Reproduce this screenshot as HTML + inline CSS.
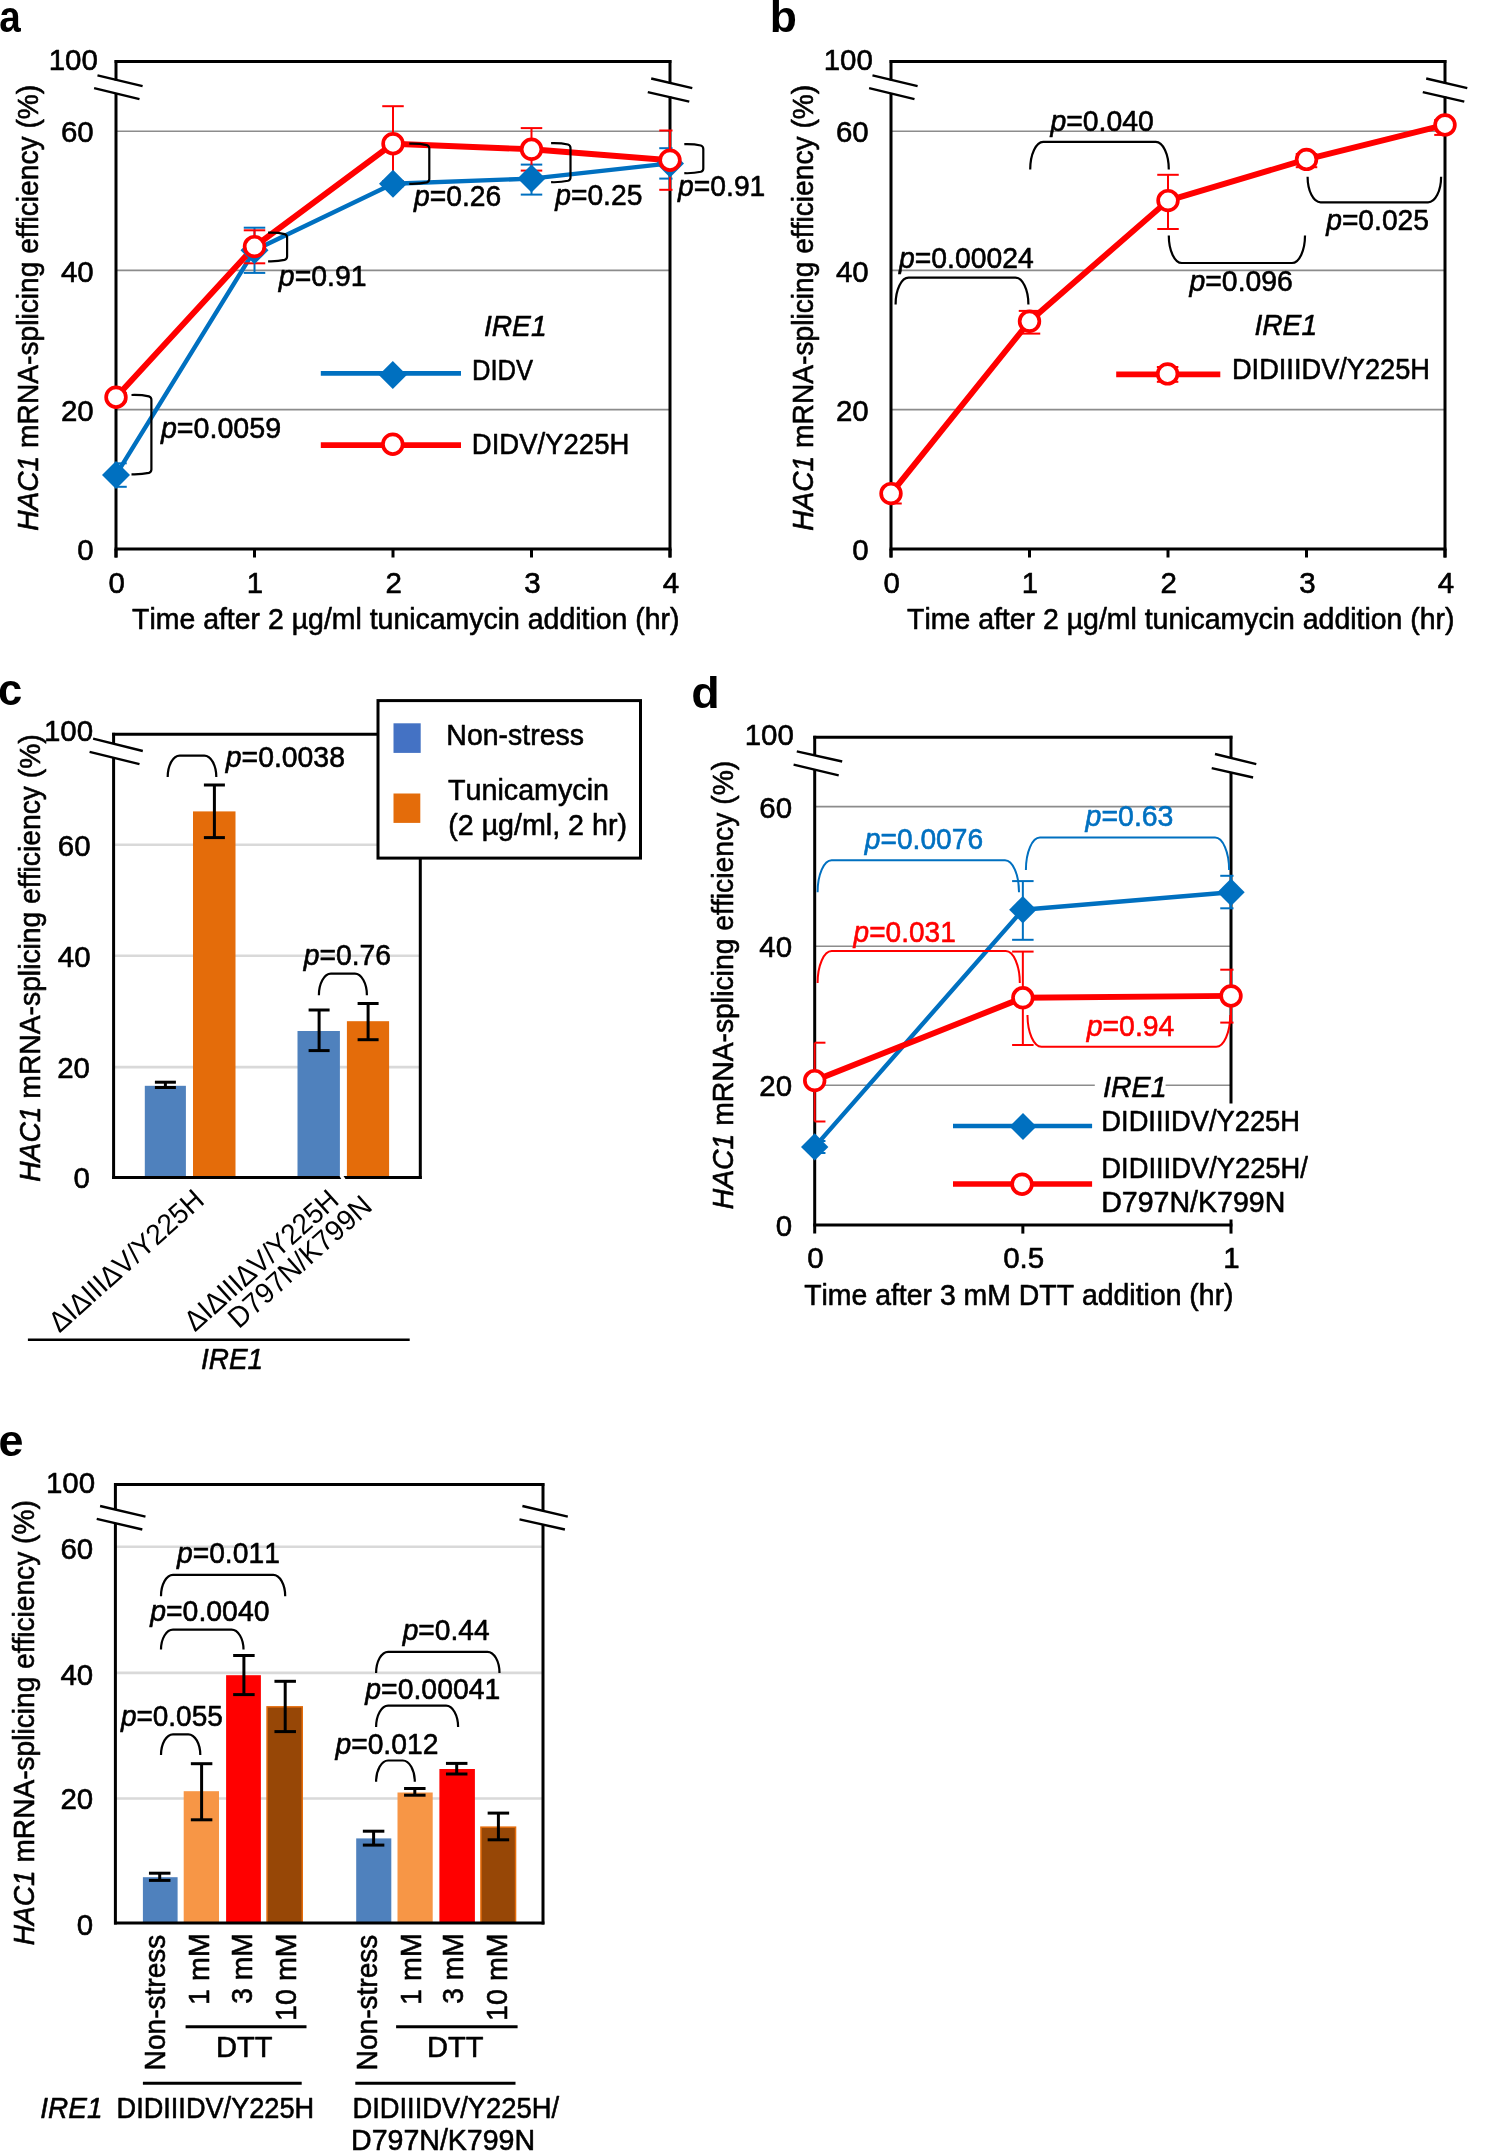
<!DOCTYPE html>
<html><head><meta charset="utf-8"><style>
html,body{margin:0;padding:0;background:#fff;}
svg{display:block;will-change:transform;}
text{font-family:"Liberation Sans",sans-serif;font-kerning:none;}
</style></head><body>
<svg width="1498" height="2153" viewBox="0 0 1498 2153">
<rect x="0" y="0" width="1498" height="2153" fill="#fff"/>
<line x1="116.00" y1="131.20" x2="670.00" y2="131.20" stroke="#8C8C8C" stroke-width="1.60" stroke-linecap="butt"/>
<line x1="116.00" y1="270.40" x2="670.00" y2="270.40" stroke="#8C8C8C" stroke-width="1.60" stroke-linecap="butt"/>
<line x1="116.00" y1="409.60" x2="670.00" y2="409.60" stroke="#8C8C8C" stroke-width="1.60" stroke-linecap="butt"/>
<line x1="114.60" y1="61.50" x2="671.40" y2="61.50" stroke="#000" stroke-width="3.00" stroke-linecap="butt"/>
<line x1="116.00" y1="60.10" x2="116.00" y2="80.50" stroke="#000" stroke-width="3.00" stroke-linecap="butt"/>
<line x1="116.00" y1="93.50" x2="116.00" y2="557.50" stroke="#000" stroke-width="3.00" stroke-linecap="butt"/>
<line x1="670.00" y1="60.10" x2="670.00" y2="83.50" stroke="#000" stroke-width="3.00" stroke-linecap="butt"/>
<line x1="670.00" y1="96.50" x2="670.00" y2="557.50" stroke="#000" stroke-width="3.00" stroke-linecap="butt"/>
<line x1="114.60" y1="549.00" x2="671.40" y2="549.00" stroke="#000" stroke-width="3.00" stroke-linecap="butt"/>
<line x1="116.00" y1="549.00" x2="116.00" y2="557.50" stroke="#000" stroke-width="3.00" stroke-linecap="butt"/>
<line x1="254.50" y1="549.00" x2="254.50" y2="557.50" stroke="#000" stroke-width="3.00" stroke-linecap="butt"/>
<line x1="393.00" y1="549.00" x2="393.00" y2="557.50" stroke="#000" stroke-width="3.00" stroke-linecap="butt"/>
<line x1="531.50" y1="549.00" x2="531.50" y2="557.50" stroke="#000" stroke-width="3.00" stroke-linecap="butt"/>
<line x1="670.00" y1="549.00" x2="670.00" y2="557.50" stroke="#000" stroke-width="3.00" stroke-linecap="butt"/>
<line x1="97.50" y1="75.40" x2="142.60" y2="86.10" stroke="#000" stroke-width="2.40" stroke-linecap="butt"/>
<line x1="94.10" y1="88.10" x2="139.50" y2="99.10" stroke="#000" stroke-width="2.40" stroke-linecap="butt"/>
<line x1="651.20" y1="78.50" x2="692.30" y2="88.10" stroke="#000" stroke-width="2.40" stroke-linecap="butt"/>
<line x1="647.80" y1="92.10" x2="689.30" y2="101.70" stroke="#000" stroke-width="2.40" stroke-linecap="butt"/>
<text x="48.73" y="70.10" font-size="29.50" textLength="49.22" lengthAdjust="spacingAndGlyphs" stroke="#000" stroke-width="0.60" stroke-linejoin="round">100</text>
<text x="60.94" y="142.30" font-size="29.50" textLength="32.81" lengthAdjust="spacingAndGlyphs" stroke="#000" stroke-width="0.60" stroke-linejoin="round">60</text>
<text x="60.94" y="281.50" font-size="29.50" textLength="32.81" lengthAdjust="spacingAndGlyphs" stroke="#000" stroke-width="0.60" stroke-linejoin="round">40</text>
<text x="60.94" y="420.80" font-size="29.50" textLength="32.81" lengthAdjust="spacingAndGlyphs" stroke="#000" stroke-width="0.60" stroke-linejoin="round">20</text>
<text x="77.35" y="560.00" font-size="29.50" textLength="16.41" lengthAdjust="spacingAndGlyphs" stroke="#000" stroke-width="0.60" stroke-linejoin="round">0</text>
<text x="108.60" y="592.60" font-size="29.50" textLength="16.41" lengthAdjust="spacingAndGlyphs" stroke="#000" stroke-width="0.60" stroke-linejoin="round">0</text>
<text x="246.69" y="592.60" font-size="29.50" textLength="16.41" lengthAdjust="spacingAndGlyphs" stroke="#000" stroke-width="0.60" stroke-linejoin="round">1</text>
<text x="385.60" y="592.60" font-size="29.50" textLength="16.41" lengthAdjust="spacingAndGlyphs" stroke="#000" stroke-width="0.60" stroke-linejoin="round">2</text>
<text x="524.18" y="592.60" font-size="29.50" textLength="16.41" lengthAdjust="spacingAndGlyphs" stroke="#000" stroke-width="0.60" stroke-linejoin="round">3</text>
<text x="662.69" y="592.60" font-size="29.50" textLength="16.41" lengthAdjust="spacingAndGlyphs" stroke="#000" stroke-width="0.60" stroke-linejoin="round">4</text>
<text x="132.06" y="629.40" font-size="29.50" textLength="547.50" lengthAdjust="spacingAndGlyphs" stroke="#000" stroke-width="0.60" stroke-linejoin="round">Time after 2 µg/ml tunicamycin addition (hr)</text>
<text transform="translate(38.30 530.87) rotate(-90)" x="0" y="0" font-size="29.50" textLength="446.11" lengthAdjust="spacingAndGlyphs" stroke="#000" stroke-width="0.60" stroke-linejoin="round"><tspan font-style="italic">HAC1</tspan> mRNA-splicing efficiency (%)</text>
<text x="-0.83" y="32.20" font-size="44.00" textLength="21.49" lengthAdjust="spacingAndGlyphs"><tspan font-weight="bold">a</tspan></text>
<polyline points="116.00,474.90 254.50,250.30 393.00,183.80 531.50,178.60 670.00,163.40" fill="none" stroke="#0070C0" stroke-width="4.40" stroke-linejoin="round"/>
<polyline points="116.00,397.20 254.50,246.60 393.00,143.70 531.50,149.30 670.00,160.20" fill="none" stroke="#FF0000" stroke-width="5.90" stroke-linejoin="round"/>
<line x1="116.00" y1="463.30" x2="116.00" y2="486.80" stroke="#0070C0" stroke-width="2.00" stroke-linecap="butt"/><line x1="116.00" y1="463.30" x2="126.75" y2="463.30" stroke="#0070C0" stroke-width="2.00" stroke-linecap="butt"/><line x1="116.00" y1="486.80" x2="126.75" y2="486.80" stroke="#0070C0" stroke-width="2.00" stroke-linecap="butt"/>
<line x1="254.50" y1="227.70" x2="254.50" y2="272.90" stroke="#0070C0" stroke-width="2.00" stroke-linecap="butt"/><line x1="243.75" y1="227.70" x2="265.25" y2="227.70" stroke="#0070C0" stroke-width="2.00" stroke-linecap="butt"/><line x1="243.75" y1="272.90" x2="265.25" y2="272.90" stroke="#0070C0" stroke-width="2.00" stroke-linecap="butt"/>
<line x1="393.00" y1="181.50" x2="393.00" y2="186.30" stroke="#0070C0" stroke-width="2.00" stroke-linecap="butt"/><line x1="382.25" y1="181.50" x2="403.75" y2="181.50" stroke="#0070C0" stroke-width="2.00" stroke-linecap="butt"/><line x1="382.25" y1="186.30" x2="403.75" y2="186.30" stroke="#0070C0" stroke-width="2.00" stroke-linecap="butt"/>
<line x1="531.50" y1="164.60" x2="531.50" y2="194.60" stroke="#0070C0" stroke-width="2.00" stroke-linecap="butt"/><line x1="520.75" y1="164.60" x2="542.25" y2="164.60" stroke="#0070C0" stroke-width="2.00" stroke-linecap="butt"/><line x1="520.75" y1="194.60" x2="542.25" y2="194.60" stroke="#0070C0" stroke-width="2.00" stroke-linecap="butt"/>
<line x1="670.00" y1="148.20" x2="670.00" y2="178.60" stroke="#0070C0" stroke-width="2.00" stroke-linecap="butt"/><line x1="659.25" y1="148.20" x2="672.50" y2="148.20" stroke="#0070C0" stroke-width="2.00" stroke-linecap="butt"/><line x1="659.25" y1="178.60" x2="672.50" y2="178.60" stroke="#0070C0" stroke-width="2.00" stroke-linecap="butt"/>
<line x1="116.00" y1="393.00" x2="116.00" y2="401.40" stroke="#FF0000" stroke-width="2.00" stroke-linecap="butt"/><line x1="116.00" y1="393.00" x2="126.75" y2="393.00" stroke="#FF0000" stroke-width="2.00" stroke-linecap="butt"/><line x1="116.00" y1="401.40" x2="126.75" y2="401.40" stroke="#FF0000" stroke-width="2.00" stroke-linecap="butt"/>
<line x1="254.50" y1="230.30" x2="254.50" y2="263.30" stroke="#FF0000" stroke-width="2.00" stroke-linecap="butt"/><line x1="243.75" y1="230.30" x2="265.25" y2="230.30" stroke="#FF0000" stroke-width="2.00" stroke-linecap="butt"/><line x1="243.75" y1="263.30" x2="265.25" y2="263.30" stroke="#FF0000" stroke-width="2.00" stroke-linecap="butt"/>
<line x1="393.00" y1="106.20" x2="393.00" y2="181.20" stroke="#FF0000" stroke-width="2.00" stroke-linecap="butt"/><line x1="382.25" y1="106.20" x2="403.75" y2="106.20" stroke="#FF0000" stroke-width="2.00" stroke-linecap="butt"/><line x1="382.25" y1="181.20" x2="403.75" y2="181.20" stroke="#FF0000" stroke-width="2.00" stroke-linecap="butt"/>
<line x1="531.50" y1="128.10" x2="531.50" y2="170.60" stroke="#FF0000" stroke-width="2.00" stroke-linecap="butt"/><line x1="520.75" y1="128.10" x2="542.25" y2="128.10" stroke="#FF0000" stroke-width="2.00" stroke-linecap="butt"/><line x1="520.75" y1="170.60" x2="542.25" y2="170.60" stroke="#FF0000" stroke-width="2.00" stroke-linecap="butt"/>
<line x1="670.00" y1="130.50" x2="670.00" y2="189.80" stroke="#FF0000" stroke-width="2.00" stroke-linecap="butt"/><line x1="659.25" y1="130.50" x2="672.50" y2="130.50" stroke="#FF0000" stroke-width="2.00" stroke-linecap="butt"/><line x1="659.25" y1="189.80" x2="672.50" y2="189.80" stroke="#FF0000" stroke-width="2.00" stroke-linecap="butt"/>
<polygon points="102.00,474.90 116.00,460.90 130.00,474.90 116.00,488.90" fill="#0070C0"/>
<polygon points="240.50,250.30 254.50,236.30 268.50,250.30 254.50,264.30" fill="#0070C0"/>
<polygon points="379.00,183.80 393.00,169.80 407.00,183.80 393.00,197.80" fill="#0070C0"/>
<polygon points="517.50,178.60 531.50,164.60 545.50,178.60 531.50,192.60" fill="#0070C0"/>
<polygon points="656.00,163.40 670.00,149.40 684.00,163.40 670.00,177.40" fill="#0070C0"/>
<circle cx="116.00" cy="397.20" r="9.85" fill="#fff" stroke="#FF0000" stroke-width="3.70"/>
<circle cx="254.50" cy="246.60" r="9.85" fill="#fff" stroke="#FF0000" stroke-width="3.70"/>
<circle cx="393.00" cy="143.70" r="9.85" fill="#fff" stroke="#FF0000" stroke-width="3.70"/>
<circle cx="531.50" cy="149.30" r="9.85" fill="#fff" stroke="#FF0000" stroke-width="3.70"/>
<circle cx="670.00" cy="160.20" r="9.85" fill="#fff" stroke="#FF0000" stroke-width="3.70"/>
<path d="M 131.50 395.00 Q 141.45 394.70 148.90 396.40 Q 151.40 397.20 151.40 399.80 L 151.40 469.50 Q 151.40 472.10 148.90 472.90 Q 141.45 474.60 131.50 474.30" fill="none" stroke="#000" stroke-width="2.20"/>
<path d="M 268.10 232.70 Q 277.60 232.40 284.60 234.10 Q 287.10 234.90 287.10 237.50 L 287.10 256.50 Q 287.10 259.10 284.60 259.90 Q 277.60 261.60 268.10 261.30" fill="none" stroke="#000" stroke-width="2.20"/>
<path d="M 409.30 143.70 Q 419.30 143.40 426.80 145.10 Q 429.30 145.90 429.30 148.50 L 429.30 179.00 Q 429.30 181.60 426.80 182.40 Q 419.30 184.10 409.30 183.80" fill="none" stroke="#000" stroke-width="2.20"/>
<path d="M 551.10 143.10 Q 560.80 142.80 568.00 144.50 Q 570.50 145.30 570.50 147.90 L 570.50 177.40 Q 570.50 180.00 568.00 180.80 Q 560.80 182.50 551.10 182.20" fill="none" stroke="#000" stroke-width="2.20"/>
<path d="M 684.30 144.10 Q 693.80 143.80 700.80 145.50 Q 703.30 146.30 703.30 148.90 L 703.30 168.40 Q 703.30 171.00 700.80 171.80 Q 693.80 173.50 684.30 173.20" fill="none" stroke="#000" stroke-width="2.20"/>
<text x="160.91" y="437.50" font-size="29.50" textLength="120.24" lengthAdjust="spacingAndGlyphs" stroke="#000" stroke-width="0.60" stroke-linejoin="round"><tspan font-style="italic">p</tspan>=0.0059</text>
<text x="278.81" y="286.30" font-size="29.50" textLength="87.78" lengthAdjust="spacingAndGlyphs" stroke="#000" stroke-width="0.60" stroke-linejoin="round"><tspan font-style="italic">p</tspan>=0.91</text>
<text x="414.00" y="206.20" font-size="29.50" textLength="87.24" lengthAdjust="spacingAndGlyphs" stroke="#000" stroke-width="0.60" stroke-linejoin="round"><tspan font-style="italic">p</tspan>=0.26</text>
<text x="555.20" y="205.20" font-size="29.50" textLength="87.18" lengthAdjust="spacingAndGlyphs" stroke="#000" stroke-width="0.60" stroke-linejoin="round"><tspan font-style="italic">p</tspan>=0.25</text>
<text x="678.00" y="196.40" font-size="29.50" textLength="87.38" lengthAdjust="spacingAndGlyphs" stroke="#000" stroke-width="0.60" stroke-linejoin="round"><tspan font-style="italic">p</tspan>=0.91</text>
<text x="483.88" y="335.50" font-size="29.50" textLength="62.80" lengthAdjust="spacingAndGlyphs" stroke="#000" stroke-width="0.60" stroke-linejoin="round"><tspan font-style="italic">IRE1</tspan></text>
<line x1="320.80" y1="373.35" x2="461.00" y2="373.35" stroke="#0070C0" stroke-width="4.60" stroke-linecap="butt"/>
<polygon points="378.80,375.00 392.80,361.00 406.80,375.00 392.80,389.00" fill="#0070C0"/>
<text x="472.00" y="380.10" font-size="29.50" textLength="61.21" lengthAdjust="spacingAndGlyphs" stroke="#000" stroke-width="0.60" stroke-linejoin="round">DIDV</text>
<line x1="320.80" y1="445.20" x2="461.00" y2="445.20" stroke="#FF0000" stroke-width="5.70" stroke-linecap="butt"/>
<circle cx="392.80" cy="444.20" r="9.85" fill="#fff" stroke="#FF0000" stroke-width="3.70"/>
<text x="471.84" y="453.50" font-size="29.50" textLength="157.50" lengthAdjust="spacingAndGlyphs" stroke="#000" stroke-width="0.60" stroke-linejoin="round">DIDV/Y225H</text>
<line x1="891.00" y1="131.20" x2="1445.00" y2="131.20" stroke="#8C8C8C" stroke-width="1.60" stroke-linecap="butt"/>
<line x1="891.00" y1="270.40" x2="1445.00" y2="270.40" stroke="#8C8C8C" stroke-width="1.60" stroke-linecap="butt"/>
<line x1="891.00" y1="409.60" x2="1445.00" y2="409.60" stroke="#8C8C8C" stroke-width="1.60" stroke-linecap="butt"/>
<line x1="889.60" y1="61.50" x2="1446.40" y2="61.50" stroke="#000" stroke-width="3.00" stroke-linecap="butt"/>
<line x1="891.00" y1="60.10" x2="891.00" y2="80.50" stroke="#000" stroke-width="3.00" stroke-linecap="butt"/>
<line x1="891.00" y1="93.50" x2="891.00" y2="557.50" stroke="#000" stroke-width="3.00" stroke-linecap="butt"/>
<line x1="1445.00" y1="60.10" x2="1445.00" y2="83.50" stroke="#000" stroke-width="3.00" stroke-linecap="butt"/>
<line x1="1445.00" y1="96.50" x2="1445.00" y2="557.50" stroke="#000" stroke-width="3.00" stroke-linecap="butt"/>
<line x1="889.60" y1="549.00" x2="1446.40" y2="549.00" stroke="#000" stroke-width="3.00" stroke-linecap="butt"/>
<line x1="891.00" y1="549.00" x2="891.00" y2="557.50" stroke="#000" stroke-width="3.00" stroke-linecap="butt"/>
<line x1="1029.50" y1="549.00" x2="1029.50" y2="557.50" stroke="#000" stroke-width="3.00" stroke-linecap="butt"/>
<line x1="1168.00" y1="549.00" x2="1168.00" y2="557.50" stroke="#000" stroke-width="3.00" stroke-linecap="butt"/>
<line x1="1306.50" y1="549.00" x2="1306.50" y2="557.50" stroke="#000" stroke-width="3.00" stroke-linecap="butt"/>
<line x1="1445.00" y1="549.00" x2="1445.00" y2="557.50" stroke="#000" stroke-width="3.00" stroke-linecap="butt"/>
<line x1="872.50" y1="75.40" x2="917.60" y2="86.10" stroke="#000" stroke-width="2.40" stroke-linecap="butt"/>
<line x1="869.10" y1="88.10" x2="914.50" y2="99.10" stroke="#000" stroke-width="2.40" stroke-linecap="butt"/>
<line x1="1426.20" y1="78.50" x2="1467.30" y2="88.10" stroke="#000" stroke-width="2.40" stroke-linecap="butt"/>
<line x1="1422.80" y1="92.10" x2="1464.30" y2="101.70" stroke="#000" stroke-width="2.40" stroke-linecap="butt"/>
<text x="823.73" y="70.10" font-size="29.50" textLength="49.22" lengthAdjust="spacingAndGlyphs" stroke="#000" stroke-width="0.60" stroke-linejoin="round">100</text>
<text x="835.94" y="142.30" font-size="29.50" textLength="32.81" lengthAdjust="spacingAndGlyphs" stroke="#000" stroke-width="0.60" stroke-linejoin="round">60</text>
<text x="835.94" y="281.50" font-size="29.50" textLength="32.81" lengthAdjust="spacingAndGlyphs" stroke="#000" stroke-width="0.60" stroke-linejoin="round">40</text>
<text x="835.94" y="420.80" font-size="29.50" textLength="32.81" lengthAdjust="spacingAndGlyphs" stroke="#000" stroke-width="0.60" stroke-linejoin="round">20</text>
<text x="852.35" y="560.00" font-size="29.50" textLength="16.41" lengthAdjust="spacingAndGlyphs" stroke="#000" stroke-width="0.60" stroke-linejoin="round">0</text>
<text x="883.60" y="592.60" font-size="29.50" textLength="16.41" lengthAdjust="spacingAndGlyphs" stroke="#000" stroke-width="0.60" stroke-linejoin="round">0</text>
<text x="1021.69" y="592.60" font-size="29.50" textLength="16.41" lengthAdjust="spacingAndGlyphs" stroke="#000" stroke-width="0.60" stroke-linejoin="round">1</text>
<text x="1160.60" y="592.60" font-size="29.50" textLength="16.41" lengthAdjust="spacingAndGlyphs" stroke="#000" stroke-width="0.60" stroke-linejoin="round">2</text>
<text x="1299.18" y="592.60" font-size="29.50" textLength="16.41" lengthAdjust="spacingAndGlyphs" stroke="#000" stroke-width="0.60" stroke-linejoin="round">3</text>
<text x="1437.69" y="592.60" font-size="29.50" textLength="16.41" lengthAdjust="spacingAndGlyphs" stroke="#000" stroke-width="0.60" stroke-linejoin="round">4</text>
<text x="907.06" y="629.40" font-size="29.50" textLength="547.50" lengthAdjust="spacingAndGlyphs" stroke="#000" stroke-width="0.60" stroke-linejoin="round">Time after 2 µg/ml tunicamycin addition (hr)</text>
<text transform="translate(813.30 530.87) rotate(-90)" x="0" y="0" font-size="29.50" textLength="446.11" lengthAdjust="spacingAndGlyphs" stroke="#000" stroke-width="0.60" stroke-linejoin="round"><tspan font-style="italic">HAC1</tspan> mRNA-splicing efficiency (%)</text>
<text x="769.67" y="32.20" font-size="44.00" textLength="27.15" lengthAdjust="spacingAndGlyphs"><tspan font-weight="bold">b</tspan></text>
<polyline points="891.00,493.60 1029.50,321.30 1168.00,200.60 1306.50,159.40 1445.00,124.90" fill="none" stroke="#FF0000" stroke-width="5.90" stroke-linejoin="round"/>
<line x1="891.00" y1="483.70" x2="891.00" y2="503.50" stroke="#FF0000" stroke-width="2.00" stroke-linecap="butt"/><line x1="891.00" y1="483.70" x2="901.75" y2="483.70" stroke="#FF0000" stroke-width="2.00" stroke-linecap="butt"/><line x1="891.00" y1="503.50" x2="901.75" y2="503.50" stroke="#FF0000" stroke-width="2.00" stroke-linecap="butt"/>
<line x1="1029.50" y1="310.90" x2="1029.50" y2="333.60" stroke="#FF0000" stroke-width="2.00" stroke-linecap="butt"/><line x1="1018.75" y1="310.90" x2="1040.25" y2="310.90" stroke="#FF0000" stroke-width="2.00" stroke-linecap="butt"/><line x1="1018.75" y1="333.60" x2="1040.25" y2="333.60" stroke="#FF0000" stroke-width="2.00" stroke-linecap="butt"/>
<line x1="1168.00" y1="174.80" x2="1168.00" y2="229.00" stroke="#FF0000" stroke-width="2.00" stroke-linecap="butt"/><line x1="1157.25" y1="174.80" x2="1178.75" y2="174.80" stroke="#FF0000" stroke-width="2.00" stroke-linecap="butt"/><line x1="1157.25" y1="229.00" x2="1178.75" y2="229.00" stroke="#FF0000" stroke-width="2.00" stroke-linecap="butt"/>
<line x1="1306.50" y1="154.00" x2="1306.50" y2="167.20" stroke="#FF0000" stroke-width="2.00" stroke-linecap="butt"/><line x1="1295.75" y1="154.00" x2="1317.25" y2="154.00" stroke="#FF0000" stroke-width="2.00" stroke-linecap="butt"/><line x1="1295.75" y1="167.20" x2="1317.25" y2="167.20" stroke="#FF0000" stroke-width="2.00" stroke-linecap="butt"/>
<line x1="1445.00" y1="120.00" x2="1445.00" y2="134.90" stroke="#FF0000" stroke-width="2.00" stroke-linecap="butt"/><line x1="1434.25" y1="120.00" x2="1447.50" y2="120.00" stroke="#FF0000" stroke-width="2.00" stroke-linecap="butt"/><line x1="1434.25" y1="134.90" x2="1447.50" y2="134.90" stroke="#FF0000" stroke-width="2.00" stroke-linecap="butt"/>
<circle cx="891.00" cy="493.60" r="9.85" fill="#fff" stroke="#FF0000" stroke-width="3.70"/>
<circle cx="1029.50" cy="321.30" r="9.85" fill="#fff" stroke="#FF0000" stroke-width="3.70"/>
<circle cx="1168.00" cy="200.60" r="9.85" fill="#fff" stroke="#FF0000" stroke-width="3.70"/>
<circle cx="1306.50" cy="159.40" r="9.85" fill="#fff" stroke="#FF0000" stroke-width="3.70"/>
<circle cx="1445.00" cy="124.90" r="9.85" fill="#fff" stroke="#FF0000" stroke-width="3.70"/>
<path d="M 895.60 304.40 C 895.60 289.71 901.45 277.70 908.60 277.70 L 1015.40 277.70 C 1022.55 277.70 1028.40 289.71 1028.40 304.40" fill="none" stroke="#000" stroke-width="2.20"/>
<path d="M 1030.20 169.60 C 1030.20 154.31 1036.05 141.80 1043.20 141.80 L 1155.80 141.80 C 1162.95 141.80 1168.80 154.31 1168.80 169.60" fill="none" stroke="#000" stroke-width="2.20"/>
<path d="M 1168.80 235.50 C 1168.80 250.62 1174.65 263.00 1181.80 263.00 L 1292.00 263.00 C 1299.15 263.00 1305.00 250.62 1305.00 235.50" fill="none" stroke="#000" stroke-width="2.20"/>
<path d="M 1307.60 176.70 C 1307.60 190.78 1313.45 202.30 1320.60 202.30 L 1428.10 202.30 C 1435.25 202.30 1441.10 190.78 1441.10 176.70" fill="none" stroke="#000" stroke-width="2.20"/>
<text x="899.01" y="267.80" font-size="29.50" textLength="134.72" lengthAdjust="spacingAndGlyphs" stroke="#000" stroke-width="0.60" stroke-linejoin="round"><tspan font-style="italic">p</tspan>=0.00024</text>
<text x="1050.41" y="131.40" font-size="29.50" textLength="103.40" lengthAdjust="spacingAndGlyphs" stroke="#000" stroke-width="0.60" stroke-linejoin="round"><tspan font-style="italic">p</tspan>=0.040</text>
<text x="1189.51" y="290.50" font-size="29.50" textLength="103.34" lengthAdjust="spacingAndGlyphs" stroke="#000" stroke-width="0.60" stroke-linejoin="round"><tspan font-style="italic">p</tspan>=0.096</text>
<text x="1326.20" y="229.60" font-size="29.50" textLength="102.78" lengthAdjust="spacingAndGlyphs" stroke="#000" stroke-width="0.60" stroke-linejoin="round"><tspan font-style="italic">p</tspan>=0.025</text>
<text x="1254.38" y="335.00" font-size="29.50" textLength="62.80" lengthAdjust="spacingAndGlyphs" stroke="#000" stroke-width="0.60" stroke-linejoin="round"><tspan font-style="italic">IRE1</tspan></text>
<line x1="1116.20" y1="374.30" x2="1220.30" y2="374.30" stroke="#FF0000" stroke-width="5.70" stroke-linecap="butt"/>
<line x1="1167.60" y1="367.00" x2="1167.60" y2="381.80" stroke="#FF0000" stroke-width="2.00" stroke-linecap="butt"/><line x1="1156.85" y1="367.00" x2="1178.35" y2="367.00" stroke="#FF0000" stroke-width="2.00" stroke-linecap="butt"/><line x1="1156.85" y1="381.80" x2="1178.35" y2="381.80" stroke="#FF0000" stroke-width="2.00" stroke-linecap="butt"/>
<circle cx="1167.60" cy="373.90" r="9.85" fill="#fff" stroke="#FF0000" stroke-width="3.70"/>
<text x="1231.97" y="379.10" font-size="29.50" textLength="198.05" lengthAdjust="spacingAndGlyphs" stroke="#000" stroke-width="0.60" stroke-linejoin="round">DIDIIIDV/Y225H</text>
<line x1="113.60" y1="844.80" x2="420.30" y2="844.80" stroke="#D9D9D9" stroke-width="2.60" stroke-linecap="butt"/>
<line x1="113.60" y1="955.80" x2="420.30" y2="955.80" stroke="#D9D9D9" stroke-width="2.60" stroke-linecap="butt"/>
<line x1="113.60" y1="1067.10" x2="420.30" y2="1067.10" stroke="#D9D9D9" stroke-width="2.60" stroke-linecap="butt"/>
<rect x="144.80" y="1085.80" width="41.10" height="91.80" fill="#4F81BD"/>
<rect x="193.00" y="811.40" width="42.50" height="366.20" fill="#E46C0A"/>
<rect x="297.50" y="1031.00" width="42.40" height="146.60" fill="#4F81BD"/>
<rect x="346.90" y="1021.20" width="42.20" height="156.40" fill="#E46C0A"/>
<line x1="165.40" y1="1082.20" x2="165.40" y2="1087.50" stroke="#000" stroke-width="3.00" stroke-linecap="butt"/><line x1="154.90" y1="1082.20" x2="175.90" y2="1082.20" stroke="#000" stroke-width="3.00" stroke-linecap="butt"/><line x1="154.90" y1="1087.50" x2="175.90" y2="1087.50" stroke="#000" stroke-width="3.00" stroke-linecap="butt"/>
<line x1="214.40" y1="785.00" x2="214.40" y2="837.60" stroke="#000" stroke-width="3.00" stroke-linecap="butt"/><line x1="203.90" y1="785.00" x2="224.90" y2="785.00" stroke="#000" stroke-width="3.00" stroke-linecap="butt"/><line x1="203.90" y1="837.60" x2="224.90" y2="837.60" stroke="#000" stroke-width="3.00" stroke-linecap="butt"/>
<line x1="319.10" y1="1010.00" x2="319.10" y2="1050.60" stroke="#000" stroke-width="3.00" stroke-linecap="butt"/><line x1="308.60" y1="1010.00" x2="329.60" y2="1010.00" stroke="#000" stroke-width="3.00" stroke-linecap="butt"/><line x1="308.60" y1="1050.60" x2="329.60" y2="1050.60" stroke="#000" stroke-width="3.00" stroke-linecap="butt"/>
<line x1="368.10" y1="1003.50" x2="368.10" y2="1039.70" stroke="#000" stroke-width="3.00" stroke-linecap="butt"/><line x1="357.60" y1="1003.50" x2="378.60" y2="1003.50" stroke="#000" stroke-width="3.00" stroke-linecap="butt"/><line x1="357.60" y1="1039.70" x2="378.60" y2="1039.70" stroke="#000" stroke-width="3.00" stroke-linecap="butt"/>
<line x1="113.60" y1="732.80" x2="113.60" y2="743.70" stroke="#000" stroke-width="3.00" stroke-linecap="butt"/>
<line x1="113.60" y1="757.70" x2="113.60" y2="1179.00" stroke="#000" stroke-width="3.00" stroke-linecap="butt"/>
<line x1="112.20" y1="734.20" x2="380.00" y2="734.20" stroke="#000" stroke-width="3.00" stroke-linecap="butt"/>
<line x1="420.30" y1="856.00" x2="420.30" y2="1179.00" stroke="#000" stroke-width="3.00" stroke-linecap="butt"/>
<line x1="112.20" y1="1177.60" x2="421.70" y2="1177.60" stroke="#000" stroke-width="3.00" stroke-linecap="butt"/>
<polygon points="339.4,1175.8 343.4,1175.8 346.1,1179.9 341.8,1179.9" fill="#fff"/>
<line x1="93.10" y1="738.70" x2="142.80" y2="751.00" stroke="#000" stroke-width="2.40" stroke-linecap="butt"/>
<line x1="89.60" y1="751.80" x2="139.50" y2="764.10" stroke="#000" stroke-width="2.40" stroke-linecap="butt"/>
<path d="M 167.70 777.00 C 167.70 765.23 173.10 755.60 179.70 755.60 L 204.30 755.60 C 210.90 755.60 216.30 765.23 216.30 777.00" fill="none" stroke="#000" stroke-width="2.20"/>
<path d="M 318.90 995.20 C 318.90 983.38 324.30 973.70 330.90 973.70 L 354.90 973.70 C 361.50 973.70 366.90 983.38 366.90 995.20" fill="none" stroke="#000" stroke-width="2.20"/>
<text x="225.81" y="767.30" font-size="29.50" textLength="119.13" lengthAdjust="spacingAndGlyphs" stroke="#000" stroke-width="0.60" stroke-linejoin="round"><tspan font-style="italic">p</tspan>=0.0038</text>
<text x="303.70" y="965.20" font-size="29.50" textLength="87.34" lengthAdjust="spacingAndGlyphs" stroke="#000" stroke-width="0.60" stroke-linejoin="round"><tspan font-style="italic">p</tspan>=0.76</text>
<text x="43.93" y="741.00" font-size="29.50" textLength="49.22" lengthAdjust="spacingAndGlyphs" stroke="#000" stroke-width="0.60" stroke-linejoin="round">100</text>
<text x="57.74" y="856.30" font-size="29.50" textLength="32.81" lengthAdjust="spacingAndGlyphs" stroke="#000" stroke-width="0.60" stroke-linejoin="round">60</text>
<text x="57.74" y="966.80" font-size="29.50" textLength="32.81" lengthAdjust="spacingAndGlyphs" stroke="#000" stroke-width="0.60" stroke-linejoin="round">40</text>
<text x="57.14" y="1077.80" font-size="29.50" textLength="32.81" lengthAdjust="spacingAndGlyphs" stroke="#000" stroke-width="0.60" stroke-linejoin="round">20</text>
<text x="73.55" y="1188.40" font-size="29.50" textLength="16.41" lengthAdjust="spacingAndGlyphs" stroke="#000" stroke-width="0.60" stroke-linejoin="round">0</text>
<text transform="translate(39.60 1181.87) rotate(-90)" x="0" y="0" font-size="29.50" textLength="447.62" lengthAdjust="spacingAndGlyphs" stroke="#000" stroke-width="0.60" stroke-linejoin="round"><tspan font-style="italic">HAC1</tspan> mRNA-splicing efficiency (%)</text>
<rect x="378" y="700.6" width="262.5" height="157.5" fill="#fff" stroke="#000" stroke-width="3"/>
<rect x="393.50" y="723.30" width="27.20" height="29.60" fill="#4472C4"/>
<rect x="393.50" y="793.50" width="26.80" height="29.40" fill="#E46C0A"/>
<text x="446.36" y="744.90" font-size="29.50" textLength="137.66" lengthAdjust="spacingAndGlyphs" stroke="#000" stroke-width="0.60" stroke-linejoin="round">Non-stress</text>
<text x="448.06" y="800.20" font-size="29.50" textLength="160.91" lengthAdjust="spacingAndGlyphs" stroke="#000" stroke-width="0.60" stroke-linejoin="round">Tunicamycin</text>
<text x="448.22" y="834.90" font-size="29.50" textLength="178.75" lengthAdjust="spacingAndGlyphs" stroke="#000" stroke-width="0.60" stroke-linejoin="round">(2 µg/ml, 2 hr)</text>
<text transform="translate(204.20 1204.00) rotate(-41.80)" x="-194.22" y="0" font-size="29.00" textLength="196.47" lengthAdjust="spacingAndGlyphs">ΔIΔIIIΔV/Y225H</text>
<text transform="translate(338.90 1204.00) rotate(-41.80)" x="-192.92" y="0" font-size="29.00" textLength="195.15" lengthAdjust="spacingAndGlyphs">ΔIΔIIIΔV/Y225H</text>
<text transform="translate(372.30 1210.00) rotate(-41.80)" x="-179.21" y="0" font-size="29.00" textLength="181.50" lengthAdjust="spacingAndGlyphs">D797N/K799N</text>
<line x1="27.90" y1="1339.80" x2="409.70" y2="1339.80" stroke="#000" stroke-width="2.60" stroke-linecap="butt"/>
<text x="200.99" y="1368.60" font-size="29.50" textLength="62.17" lengthAdjust="spacingAndGlyphs" stroke="#000" stroke-width="0.60" stroke-linejoin="round"><tspan font-style="italic">IRE1</tspan></text>
<text x="-2.01" y="705.20" font-size="44.00" textLength="24.28" lengthAdjust="spacingAndGlyphs"><tspan font-weight="bold">c</tspan></text>
<line x1="814.70" y1="806.60" x2="1231.00" y2="806.60" stroke="#8C8C8C" stroke-width="1.60" stroke-linecap="butt"/>
<line x1="814.70" y1="946.20" x2="1231.00" y2="946.20" stroke="#8C8C8C" stroke-width="1.60" stroke-linecap="butt"/>
<line x1="814.70" y1="1085.20" x2="1094.80" y2="1085.20" stroke="#8C8C8C" stroke-width="1.60" stroke-linecap="butt"/>
<line x1="1165.60" y1="1085.20" x2="1231.00" y2="1085.20" stroke="#8C8C8C" stroke-width="1.60" stroke-linecap="butt"/>
<line x1="813.30" y1="737.20" x2="1232.40" y2="737.20" stroke="#000" stroke-width="3.00" stroke-linecap="butt"/>
<line x1="814.70" y1="735.80" x2="814.70" y2="755.30" stroke="#000" stroke-width="3.00" stroke-linecap="butt"/>
<line x1="814.70" y1="769.70" x2="814.70" y2="1233.60" stroke="#000" stroke-width="3.00" stroke-linecap="butt"/>
<line x1="1231.00" y1="735.80" x2="1231.00" y2="757.90" stroke="#000" stroke-width="3.00" stroke-linecap="butt"/>
<line x1="1231.00" y1="772.50" x2="1231.00" y2="1103.60" stroke="#000" stroke-width="3.00" stroke-linecap="butt"/>
<line x1="1231.00" y1="1219.50" x2="1231.00" y2="1233.60" stroke="#000" stroke-width="3.00" stroke-linecap="butt"/>
<line x1="813.30" y1="1225.10" x2="1232.40" y2="1225.10" stroke="#000" stroke-width="3.00" stroke-linecap="butt"/>
<line x1="1022.85" y1="1225.10" x2="1022.85" y2="1233.60" stroke="#000" stroke-width="3.00" stroke-linecap="butt"/>
<line x1="796.80" y1="751.30" x2="842.20" y2="761.50" stroke="#000" stroke-width="2.40" stroke-linecap="butt"/>
<line x1="793.60" y1="764.70" x2="838.70" y2="775.40" stroke="#000" stroke-width="2.40" stroke-linecap="butt"/>
<line x1="1215.00" y1="754.00" x2="1256.30" y2="764.10" stroke="#000" stroke-width="2.40" stroke-linecap="butt"/>
<line x1="1211.70" y1="768.10" x2="1253.10" y2="777.50" stroke="#000" stroke-width="2.40" stroke-linecap="butt"/>
<polyline points="814.70,1146.90 1022.85,909.70 1231.00,892.30" fill="none" stroke="#0070C0" stroke-width="4.40" stroke-linejoin="round"/>
<polyline points="814.70,1080.60 1022.85,997.80 1231.00,995.90" fill="none" stroke="#FF0000" stroke-width="5.90" stroke-linejoin="round"/>
<line x1="814.70" y1="1141.00" x2="814.70" y2="1153.00" stroke="#0070C0" stroke-width="2.00" stroke-linecap="butt"/><line x1="814.70" y1="1141.00" x2="825.45" y2="1141.00" stroke="#0070C0" stroke-width="2.00" stroke-linecap="butt"/><line x1="814.70" y1="1153.00" x2="825.45" y2="1153.00" stroke="#0070C0" stroke-width="2.00" stroke-linecap="butt"/>
<line x1="1022.85" y1="881.10" x2="1022.85" y2="939.80" stroke="#0070C0" stroke-width="2.00" stroke-linecap="butt"/><line x1="1012.10" y1="881.10" x2="1033.60" y2="881.10" stroke="#0070C0" stroke-width="2.00" stroke-linecap="butt"/><line x1="1012.10" y1="939.80" x2="1033.60" y2="939.80" stroke="#0070C0" stroke-width="2.00" stroke-linecap="butt"/>
<line x1="1231.00" y1="875.80" x2="1231.00" y2="908.30" stroke="#0070C0" stroke-width="2.00" stroke-linecap="butt"/><line x1="1220.25" y1="875.80" x2="1233.50" y2="875.80" stroke="#0070C0" stroke-width="2.00" stroke-linecap="butt"/><line x1="1220.25" y1="908.30" x2="1233.50" y2="908.30" stroke="#0070C0" stroke-width="2.00" stroke-linecap="butt"/>
<line x1="814.70" y1="1042.70" x2="814.70" y2="1121.50" stroke="#FF0000" stroke-width="2.00" stroke-linecap="butt"/><line x1="814.70" y1="1042.70" x2="825.45" y2="1042.70" stroke="#FF0000" stroke-width="2.00" stroke-linecap="butt"/><line x1="814.70" y1="1121.50" x2="825.45" y2="1121.50" stroke="#FF0000" stroke-width="2.00" stroke-linecap="butt"/>
<line x1="1022.85" y1="951.60" x2="1022.85" y2="1045.00" stroke="#FF0000" stroke-width="2.00" stroke-linecap="butt"/><line x1="1012.10" y1="951.60" x2="1033.60" y2="951.60" stroke="#FF0000" stroke-width="2.00" stroke-linecap="butt"/><line x1="1012.10" y1="1045.00" x2="1033.60" y2="1045.00" stroke="#FF0000" stroke-width="2.00" stroke-linecap="butt"/>
<line x1="1231.00" y1="969.70" x2="1231.00" y2="1022.60" stroke="#FF0000" stroke-width="2.00" stroke-linecap="butt"/><line x1="1220.25" y1="969.70" x2="1233.50" y2="969.70" stroke="#FF0000" stroke-width="2.00" stroke-linecap="butt"/><line x1="1220.25" y1="1022.60" x2="1233.50" y2="1022.60" stroke="#FF0000" stroke-width="2.00" stroke-linecap="butt"/>
<polygon points="801.00,1146.90 814.70,1133.20 828.40,1146.90 814.70,1160.60" fill="#0070C0"/>
<polygon points="1009.15,909.70 1022.85,896.00 1036.55,909.70 1022.85,923.40" fill="#0070C0"/>
<polygon points="1217.30,892.30 1231.00,878.60 1244.70,892.30 1231.00,906.00" fill="#0070C0"/>
<circle cx="814.70" cy="1080.60" r="9.85" fill="#fff" stroke="#FF0000" stroke-width="3.70"/>
<circle cx="1022.85" cy="997.80" r="9.85" fill="#fff" stroke="#FF0000" stroke-width="3.70"/>
<circle cx="1231.00" cy="995.90" r="9.85" fill="#fff" stroke="#FF0000" stroke-width="3.70"/>
<path d="M 817.60 892.30 C 817.60 874.70 823.90 860.30 831.60 860.30 L 1005.00 860.30 C 1012.70 860.30 1019.00 874.70 1019.00 892.30" fill="none" stroke="#0070C0" stroke-width="2.00"/>
<path d="M 1025.90 870.00 C 1025.90 852.18 1032.20 837.60 1039.90 837.60 L 1215.10 837.60 C 1222.80 837.60 1229.10 852.18 1229.10 870.00" fill="none" stroke="#0070C0" stroke-width="2.00"/>
<path d="M 817.60 983.10 C 817.60 965.50 823.90 951.10 831.60 951.10 L 1005.80 951.10 C 1013.50 951.10 1019.80 965.50 1019.80 983.10" fill="none" stroke="#FF0000" stroke-width="2.00"/>
<path d="M 1027.50 1015.10 C 1027.50 1032.54 1033.80 1046.80 1041.50 1046.80 L 1216.20 1046.80 C 1223.90 1046.80 1230.20 1032.54 1230.20 1015.10" fill="none" stroke="#FF0000" stroke-width="2.00"/>
<text x="864.80" y="849.00" font-size="29.50" textLength="118.34" lengthAdjust="spacingAndGlyphs" fill="#0070C0" stroke="#0070C0" stroke-width="0.60" stroke-linejoin="round"><tspan font-style="italic">p</tspan>=0.0076</text>
<text x="1085.61" y="825.60" font-size="29.50" textLength="87.84" lengthAdjust="spacingAndGlyphs" fill="#0070C0" stroke="#0070C0" stroke-width="0.60" stroke-linejoin="round"><tspan font-style="italic">p</tspan>=0.63</text>
<text x="853.60" y="941.70" font-size="29.50" textLength="102.17" lengthAdjust="spacingAndGlyphs" fill="#FF0000" stroke="#FF0000" stroke-width="0.60" stroke-linejoin="round"><tspan font-style="italic">p</tspan>=0.031</text>
<text x="1086.71" y="1035.50" font-size="29.50" textLength="87.72" lengthAdjust="spacingAndGlyphs" fill="#FF0000" stroke="#FF0000" stroke-width="0.60" stroke-linejoin="round"><tspan font-style="italic">p</tspan>=0.94</text>
<text x="1102.97" y="1096.70" font-size="29.50" textLength="63.65" lengthAdjust="spacingAndGlyphs" stroke="#000" stroke-width="0.60" stroke-linejoin="round"><tspan font-style="italic">IRE1</tspan></text>
<line x1="953.00" y1="1126.00" x2="1092.10" y2="1126.00" stroke="#0070C0" stroke-width="4.60" stroke-linecap="butt"/>
<polygon points="1009.50,1126.50 1023.00,1113.00 1036.50,1126.50 1023.00,1140.00" fill="#0070C0"/>
<line x1="953.00" y1="1184.00" x2="1092.10" y2="1184.00" stroke="#FF0000" stroke-width="5.70" stroke-linecap="butt"/>
<circle cx="1022.00" cy="1184.20" r="9.85" fill="#fff" stroke="#FF0000" stroke-width="3.70"/>
<text x="1101.36" y="1130.80" font-size="29.50" textLength="198.56" lengthAdjust="spacingAndGlyphs" stroke="#000" stroke-width="0.60" stroke-linejoin="round">DIDIIIDV/Y225H</text>
<text x="1101.36" y="1177.60" font-size="29.50" textLength="206.54" lengthAdjust="spacingAndGlyphs" stroke="#000" stroke-width="0.60" stroke-linejoin="round">DIDIIIDV/Y225H/</text>
<text x="1101.26" y="1212.30" font-size="29.50" textLength="184.07" lengthAdjust="spacingAndGlyphs" stroke="#000" stroke-width="0.60" stroke-linejoin="round">D797N/K799N</text>
<text x="744.73" y="745.40" font-size="29.50" textLength="49.22" lengthAdjust="spacingAndGlyphs" stroke="#000" stroke-width="0.60" stroke-linejoin="round">100</text>
<text x="759.24" y="817.60" font-size="29.50" textLength="32.81" lengthAdjust="spacingAndGlyphs" stroke="#000" stroke-width="0.60" stroke-linejoin="round">60</text>
<text x="759.24" y="957.40" font-size="29.50" textLength="32.81" lengthAdjust="spacingAndGlyphs" stroke="#000" stroke-width="0.60" stroke-linejoin="round">40</text>
<text x="759.24" y="1096.30" font-size="29.50" textLength="32.81" lengthAdjust="spacingAndGlyphs" stroke="#000" stroke-width="0.60" stroke-linejoin="round">20</text>
<text x="775.65" y="1235.60" font-size="29.50" textLength="16.41" lengthAdjust="spacingAndGlyphs" stroke="#000" stroke-width="0.60" stroke-linejoin="round">0</text>
<text x="807.30" y="1268.20" font-size="29.50" textLength="16.41" lengthAdjust="spacingAndGlyphs" stroke="#000" stroke-width="0.60" stroke-linejoin="round">0</text>
<text x="1003.19" y="1268.20" font-size="29.50" textLength="41.01" lengthAdjust="spacingAndGlyphs" stroke="#000" stroke-width="0.60" stroke-linejoin="round">0.5</text>
<text x="1223.19" y="1268.20" font-size="29.50" textLength="16.41" lengthAdjust="spacingAndGlyphs" stroke="#000" stroke-width="0.60" stroke-linejoin="round">1</text>
<text x="804.16" y="1305.20" font-size="29.50" textLength="429.40" lengthAdjust="spacingAndGlyphs" stroke="#000" stroke-width="0.60" stroke-linejoin="round">Time after 3 mM DTT addition (hr)</text>
<text transform="translate(732.80 1209.27) rotate(-90)" x="0" y="0" font-size="29.50" textLength="448.53" lengthAdjust="spacingAndGlyphs" stroke="#000" stroke-width="0.60" stroke-linejoin="round"><tspan font-style="italic">HAC1</tspan> mRNA-splicing efficiency (%)</text>
<text x="691.29" y="707.80" font-size="44.00" textLength="28.49" lengthAdjust="spacingAndGlyphs"><tspan font-weight="bold">d</tspan></text>
<line x1="115.40" y1="1546.80" x2="543.00" y2="1546.80" stroke="#D9D9D9" stroke-width="2.60" stroke-linecap="butt"/>
<line x1="115.40" y1="1672.90" x2="543.00" y2="1672.90" stroke="#D9D9D9" stroke-width="2.60" stroke-linecap="butt"/>
<line x1="115.40" y1="1798.50" x2="543.00" y2="1798.50" stroke="#D9D9D9" stroke-width="2.60" stroke-linecap="butt"/>
<rect x="142.90" y="1877.20" width="34.70" height="45.90" fill="#4F81BD"/>
<rect x="183.70" y="1791.20" width="35.30" height="131.90" fill="#F79646"/>
<rect x="226.10" y="1675.20" width="34.80" height="247.90" fill="#FF0000"/>
<rect x="267.05" y="1706.85" width="35.20" height="216.25" fill="#974706" stroke="#E46C0A" stroke-width="1.5"/>
<rect x="356.20" y="1838.40" width="35.10" height="84.70" fill="#4F81BD"/>
<rect x="397.50" y="1792.50" width="35.20" height="130.60" fill="#F79646"/>
<rect x="439.40" y="1769.00" width="35.50" height="154.10" fill="#FF0000"/>
<rect x="480.95" y="1827.15" width="34.60" height="95.95" fill="#974706" stroke="#E46C0A" stroke-width="1.5"/>
<line x1="159.70" y1="1873.20" x2="159.70" y2="1880.40" stroke="#000" stroke-width="3.00" stroke-linecap="butt"/><line x1="148.95" y1="1873.20" x2="170.45" y2="1873.20" stroke="#000" stroke-width="3.00" stroke-linecap="butt"/><line x1="148.95" y1="1880.40" x2="170.45" y2="1880.40" stroke="#000" stroke-width="3.00" stroke-linecap="butt"/>
<line x1="201.60" y1="1763.70" x2="201.60" y2="1819.80" stroke="#000" stroke-width="3.00" stroke-linecap="butt"/><line x1="190.85" y1="1763.70" x2="212.35" y2="1763.70" stroke="#000" stroke-width="3.00" stroke-linecap="butt"/><line x1="190.85" y1="1819.80" x2="212.35" y2="1819.80" stroke="#000" stroke-width="3.00" stroke-linecap="butt"/>
<line x1="243.90" y1="1655.50" x2="243.90" y2="1694.60" stroke="#000" stroke-width="3.00" stroke-linecap="butt"/><line x1="233.15" y1="1655.50" x2="254.65" y2="1655.50" stroke="#000" stroke-width="3.00" stroke-linecap="butt"/><line x1="233.15" y1="1694.60" x2="254.65" y2="1694.60" stroke="#000" stroke-width="3.00" stroke-linecap="butt"/>
<line x1="285.20" y1="1681.30" x2="285.20" y2="1731.60" stroke="#000" stroke-width="3.00" stroke-linecap="butt"/><line x1="274.45" y1="1681.30" x2="295.95" y2="1681.30" stroke="#000" stroke-width="3.00" stroke-linecap="butt"/><line x1="274.45" y1="1731.60" x2="295.95" y2="1731.60" stroke="#000" stroke-width="3.00" stroke-linecap="butt"/>
<line x1="373.60" y1="1831.20" x2="373.60" y2="1845.10" stroke="#000" stroke-width="3.00" stroke-linecap="butt"/><line x1="362.85" y1="1831.20" x2="384.35" y2="1831.20" stroke="#000" stroke-width="3.00" stroke-linecap="butt"/><line x1="362.85" y1="1845.10" x2="384.35" y2="1845.10" stroke="#000" stroke-width="3.00" stroke-linecap="butt"/>
<line x1="414.80" y1="1788.50" x2="414.80" y2="1795.20" stroke="#000" stroke-width="3.00" stroke-linecap="butt"/><line x1="404.05" y1="1788.50" x2="425.55" y2="1788.50" stroke="#000" stroke-width="3.00" stroke-linecap="butt"/><line x1="404.05" y1="1795.20" x2="425.55" y2="1795.20" stroke="#000" stroke-width="3.00" stroke-linecap="butt"/>
<line x1="456.70" y1="1763.40" x2="456.70" y2="1774.00" stroke="#000" stroke-width="3.00" stroke-linecap="butt"/><line x1="445.95" y1="1763.40" x2="467.45" y2="1763.40" stroke="#000" stroke-width="3.00" stroke-linecap="butt"/><line x1="445.95" y1="1774.00" x2="467.45" y2="1774.00" stroke="#000" stroke-width="3.00" stroke-linecap="butt"/>
<line x1="498.40" y1="1813.10" x2="498.40" y2="1839.80" stroke="#000" stroke-width="3.00" stroke-linecap="butt"/><line x1="487.65" y1="1813.10" x2="509.15" y2="1813.10" stroke="#000" stroke-width="3.00" stroke-linecap="butt"/><line x1="487.65" y1="1839.80" x2="509.15" y2="1839.80" stroke="#000" stroke-width="3.00" stroke-linecap="butt"/>
<line x1="114.00" y1="1484.60" x2="544.40" y2="1484.60" stroke="#000" stroke-width="3.00" stroke-linecap="butt"/>
<line x1="115.40" y1="1483.20" x2="115.40" y2="1509.60" stroke="#000" stroke-width="3.00" stroke-linecap="butt"/>
<line x1="115.40" y1="1523.20" x2="115.40" y2="1924.50" stroke="#000" stroke-width="3.00" stroke-linecap="butt"/>
<line x1="543.00" y1="1483.20" x2="543.00" y2="1510.90" stroke="#000" stroke-width="3.00" stroke-linecap="butt"/>
<line x1="543.00" y1="1524.60" x2="543.00" y2="1924.50" stroke="#000" stroke-width="3.00" stroke-linecap="butt"/>
<line x1="114.00" y1="1923.10" x2="544.40" y2="1923.10" stroke="#000" stroke-width="3.00" stroke-linecap="butt"/>
<line x1="100.10" y1="1506.00" x2="145.50" y2="1516.70" stroke="#000" stroke-width="2.40" stroke-linecap="butt"/>
<line x1="96.70" y1="1518.80" x2="142.30" y2="1529.50" stroke="#000" stroke-width="2.40" stroke-linecap="butt"/>
<line x1="522.40" y1="1506.00" x2="567.80" y2="1516.70" stroke="#000" stroke-width="2.40" stroke-linecap="butt"/>
<line x1="519.50" y1="1519.30" x2="564.90" y2="1529.50" stroke="#000" stroke-width="2.40" stroke-linecap="butt"/>
<path d="M 161.00 1755.10 C 161.00 1743.66 166.40 1734.30 173.00 1734.30 L 188.30 1734.30 C 194.90 1734.30 200.30 1743.66 200.30 1755.10" fill="none" stroke="#000" stroke-width="2.20"/>
<path d="M 161.00 1649.60 C 161.00 1638.60 166.40 1629.60 173.00 1629.60 L 231.50 1629.60 C 238.10 1629.60 243.50 1638.60 243.50 1649.60" fill="none" stroke="#000" stroke-width="2.20"/>
<path d="M 161.00 1596.20 C 161.00 1584.49 166.40 1574.90 173.00 1574.90 L 273.20 1574.90 C 279.80 1574.90 285.20 1584.49 285.20 1596.20" fill="none" stroke="#000" stroke-width="2.20"/>
<path d="M 376.10 1781.80 C 376.10 1770.09 381.50 1760.50 388.10 1760.50 L 402.80 1760.50 C 409.40 1760.50 414.80 1770.09 414.80 1781.80" fill="none" stroke="#000" stroke-width="2.20"/>
<path d="M 376.10 1727.10 C 376.10 1715.33 381.50 1705.70 388.10 1705.70 L 446.10 1705.70 C 452.70 1705.70 458.10 1715.33 458.10 1727.10" fill="none" stroke="#000" stroke-width="2.20"/>
<path d="M 376.10 1673.10 C 376.10 1661.38 381.50 1651.80 388.10 1651.80 L 487.50 1651.80 C 494.10 1651.80 499.50 1661.38 499.50 1673.10" fill="none" stroke="#000" stroke-width="2.20"/>
<text x="120.90" y="1725.70" font-size="29.50" textLength="101.88" lengthAdjust="spacingAndGlyphs" stroke="#000" stroke-width="0.60" stroke-linejoin="round"><tspan font-style="italic">p</tspan>=0.055</text>
<text x="150.21" y="1620.80" font-size="29.50" textLength="119.30" lengthAdjust="spacingAndGlyphs" stroke="#000" stroke-width="0.60" stroke-linejoin="round"><tspan font-style="italic">p</tspan>=0.0040</text>
<text x="176.90" y="1562.90" font-size="29.50" textLength="102.98" lengthAdjust="spacingAndGlyphs" stroke="#000" stroke-width="0.60" stroke-linejoin="round"><tspan font-style="italic">p</tspan>=0.011</text>
<text x="335.40" y="1753.80" font-size="29.50" textLength="103.02" lengthAdjust="spacingAndGlyphs" stroke="#000" stroke-width="0.60" stroke-linejoin="round"><tspan font-style="italic">p</tspan>=0.012</text>
<text x="365.31" y="1698.50" font-size="29.50" textLength="134.98" lengthAdjust="spacingAndGlyphs" stroke="#000" stroke-width="0.60" stroke-linejoin="round"><tspan font-style="italic">p</tspan>=0.00041</text>
<text x="402.70" y="1639.50" font-size="29.50" textLength="86.92" lengthAdjust="spacingAndGlyphs" stroke="#000" stroke-width="0.60" stroke-linejoin="round"><tspan font-style="italic">p</tspan>=0.44</text>
<text x="45.93" y="1492.80" font-size="29.50" textLength="49.22" lengthAdjust="spacingAndGlyphs" stroke="#000" stroke-width="0.60" stroke-linejoin="round">100</text>
<text x="60.44" y="1558.90" font-size="29.50" textLength="32.81" lengthAdjust="spacingAndGlyphs" stroke="#000" stroke-width="0.60" stroke-linejoin="round">60</text>
<text x="60.44" y="1684.60" font-size="29.50" textLength="32.81" lengthAdjust="spacingAndGlyphs" stroke="#000" stroke-width="0.60" stroke-linejoin="round">40</text>
<text x="60.44" y="1809.40" font-size="29.50" textLength="32.81" lengthAdjust="spacingAndGlyphs" stroke="#000" stroke-width="0.60" stroke-linejoin="round">20</text>
<text x="76.85" y="1934.80" font-size="29.50" textLength="16.41" lengthAdjust="spacingAndGlyphs" stroke="#000" stroke-width="0.60" stroke-linejoin="round">0</text>
<text transform="translate(33.90 1945.36) rotate(-90)" x="0" y="0" font-size="29.50" textLength="445.11" lengthAdjust="spacingAndGlyphs" stroke="#000" stroke-width="0.60" stroke-linejoin="round"><tspan font-style="italic">HAC1</tspan> mRNA-splicing efficiency (%)</text>
<text x="-1.56" y="1456.00" font-size="44.00" textLength="24.99" lengthAdjust="spacingAndGlyphs"><tspan font-weight="bold">e</tspan></text>
<text transform="translate(164.80 2070.40) rotate(-90)" x="0" y="0" font-size="29.50" textLength="135.82" lengthAdjust="spacingAndGlyphs" stroke="#000" stroke-width="0.60" stroke-linejoin="round">Non-stress</text>
<text transform="translate(208.80 2004.88) rotate(-90)" x="0" y="0" font-size="29.50" textLength="71.63" lengthAdjust="spacingAndGlyphs" stroke="#000" stroke-width="0.60" stroke-linejoin="round">1 mM</text>
<text transform="translate(251.50 2003.77) rotate(-90)" x="0" y="0" font-size="29.50" textLength="70.49" lengthAdjust="spacingAndGlyphs" stroke="#000" stroke-width="0.60" stroke-linejoin="round">3 mM</text>
<text transform="translate(295.60 2020.88) rotate(-90)" x="0" y="0" font-size="29.50" textLength="87.64" lengthAdjust="spacingAndGlyphs" stroke="#000" stroke-width="0.60" stroke-linejoin="round">10 mM</text>
<text transform="translate(376.60 2070.40) rotate(-90)" x="0" y="0" font-size="29.50" textLength="135.82" lengthAdjust="spacingAndGlyphs" stroke="#000" stroke-width="0.60" stroke-linejoin="round">Non-stress</text>
<text transform="translate(420.70 2004.88) rotate(-90)" x="0" y="0" font-size="29.50" textLength="71.63" lengthAdjust="spacingAndGlyphs" stroke="#000" stroke-width="0.60" stroke-linejoin="round">1 mM</text>
<text transform="translate(462.60 2003.77) rotate(-90)" x="0" y="0" font-size="29.50" textLength="70.49" lengthAdjust="spacingAndGlyphs" stroke="#000" stroke-width="0.60" stroke-linejoin="round">3 mM</text>
<text transform="translate(506.90 2020.88) rotate(-90)" x="0" y="0" font-size="29.50" textLength="87.64" lengthAdjust="spacingAndGlyphs" stroke="#000" stroke-width="0.60" stroke-linejoin="round">10 mM</text>
<line x1="185.60" y1="2026.70" x2="306.50" y2="2026.70" stroke="#000" stroke-width="3.00" stroke-linecap="butt"/>
<line x1="396.10" y1="2026.70" x2="517.60" y2="2026.70" stroke="#000" stroke-width="3.00" stroke-linecap="butt"/>
<text x="216.02" y="2056.90" font-size="29.50" textLength="56.45" lengthAdjust="spacingAndGlyphs" stroke="#000" stroke-width="0.60" stroke-linejoin="round">DTT</text>
<text x="427.12" y="2056.90" font-size="29.50" textLength="56.45" lengthAdjust="spacingAndGlyphs" stroke="#000" stroke-width="0.60" stroke-linejoin="round">DTT</text>
<line x1="142.90" y1="2083.30" x2="301.70" y2="2083.30" stroke="#000" stroke-width="3.00" stroke-linecap="butt"/>
<line x1="355.30" y1="2083.30" x2="515.50" y2="2083.30" stroke="#000" stroke-width="3.00" stroke-linecap="butt"/>
<text x="40.29" y="2117.50" font-size="29.50" textLength="62.17" lengthAdjust="spacingAndGlyphs" stroke="#000" stroke-width="0.60" stroke-linejoin="round"><tspan font-style="italic">IRE1</tspan></text>
<text x="116.57" y="2117.50" font-size="29.50" textLength="197.54" lengthAdjust="spacingAndGlyphs" stroke="#000" stroke-width="0.60" stroke-linejoin="round">DIDIIIDV/Y225H</text>
<text x="352.46" y="2117.50" font-size="29.50" textLength="206.54" lengthAdjust="spacingAndGlyphs" stroke="#000" stroke-width="0.60" stroke-linejoin="round">DIDIIIDV/Y225H/</text>
<text x="351.06" y="2149.50" font-size="29.50" textLength="184.07" lengthAdjust="spacingAndGlyphs" stroke="#000" stroke-width="0.60" stroke-linejoin="round">D797N/K799N</text>
</svg>
</body></html>
